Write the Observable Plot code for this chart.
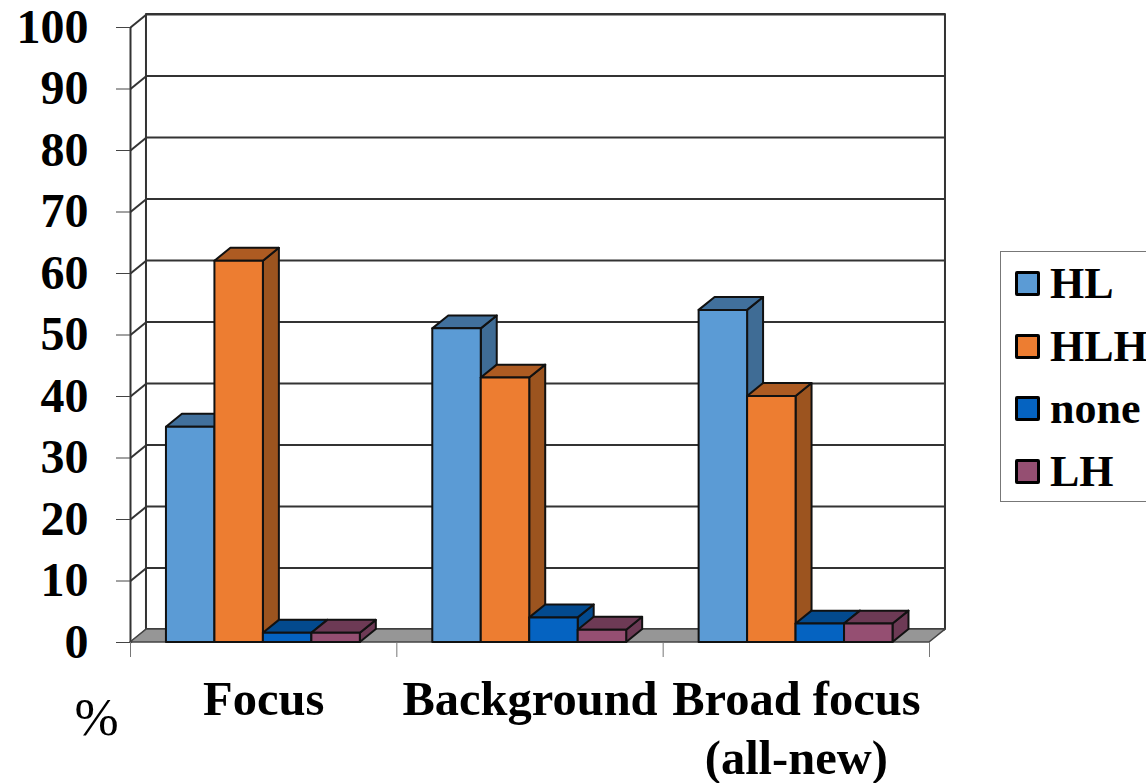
<!DOCTYPE html>
<html>
<head>
<meta charset="utf-8">
<script src="https://cdn.jsdelivr.net/npm/d3@7"></script>
<script src="https://cdn.jsdelivr.net/npm/@observablehq/plot@0.6"></script>
<style>
  html, body { margin: 0; padding: 0; background: #fff; overflow: hidden; }
  #chart { position: absolute; left: 0; top: 0; }
  #legend {
    position: absolute; left: 1000px; top: 251px; width: 150px; height: 251px;
    border: 1px solid #777; box-sizing: border-box; background: #fff;
    font: bold 44px "Liberation Serif", serif; color: #000;
  }
  .row { position: absolute; left: 14px; height: 40px; display: flex; align-items: center; white-space: nowrap; }
  .swatch { width: 19px; height: 19px; border: 3px solid #000; border-radius: 2px; margin-right: 10px; flex: none; }
</style>
</head>
<body>
<div id="chart"></div>
<div id="legend"></div>
<script>
// Share of each contour type, per focus condition
const categories = ["Focus", "Background", "Broad focus\n(all-new)"];
const seriesNames = ["HL", "HLH", "none", "LH"];
const HL = [35, 51, 54];
const HLH = [62, 43, 40];
const none = [1.5, 4, 3];
const LH = [1.5, 2, 3];
const seriesValues = [HL, HLH, none, LH];
const yTicks = [0, 10, 20, 30, 40, 50, 60, 70, 80, 90, 100];

const frontColors = ["#5b9bd5", "#ed7d31", "#0563c1", "#954f72"];
const sideColors = ["#3f6c95", "#9c541f", "#034a8e", "#6d3a55"];
const topColors = ["#41709c", "#ad5b22", "#034a8e", "#6d3a55"];

// Oblique projection: depth of the box, expressed in axis units
const depthX = 0.06;
const depthY = 2.1;
const barWidth = 0.182;
const groupInset = 0.135;
const slab = (x1a, x2a, y1a, y2a, x1b, x2b, y1b, y2b) => [
  {x1: x1a, x2: x2a, y1: y1a, y2: y2a},
  {x1: x1b, x2: x2b, y1: y1b, y2: y2b}
];
const poly = (points, options) => Plot.area(points, {x1: "x1", x2: "x2", y1: "y1", y2: "y2", ...options});

const edge = {stroke: "#111", strokeWidth: 2, strokeLinejoin: "round"};
const gridStroke = {stroke: "#333", strokeWidth: 2};

const bars = categories.flatMap((category, c) =>
  seriesNames.map((name, s) => {
    const x0 = c + groupInset + s * barWidth;
    return {category, name, s, x0, x1: x0 + barWidth, value: seriesValues[s][c]};
  })
);

const barMarks = bars.flatMap((b) => [
  // right-hand face
  poly(slab(b.x1, b.x1, 0, b.value, b.x1 + depthX, b.x1 + depthX, depthY, b.value + depthY), {fill: sideColors[b.s], ...edge}),
  // top face
  poly(slab(b.x0, b.x1, b.value, b.value, b.x0 + depthX, b.x1 + depthX, b.value + depthY, b.value + depthY), {fill: topColors[b.s], ...edge}),
  // front face
  Plot.rect([b], {x1: "x0", x2: "x1", y1: 0, y2: "value", fill: frontColors[b.s], ...edge})
]);

const chart = Plot.plot({
  width: 1146,
  height: 783,
  marginLeft: 130,
  marginRight: 217,
  marginTop: 27,
  marginBottom: 141,
  style: {background: "#fff", overflow: "visible"},
  x: {domain: [0, 3]},
  y: {domain: [0, 100]},
  marks: [
    // side wall and back wall with their gridlines
    poly(slab(0, 3, depthY, depthY, 0, 3, 100 + depthY, 100 + depthY).map((p) => ({...p, x1: p.x1 + depthX, x2: p.x2 + depthX})), {fill: "#fff", ...gridStroke}),
    Plot.ruleY(yTicks, {x1: depthX, x2: 3 + depthX, y: (d) => d + depthY, ...gridStroke}),
    Plot.link(yTicks, {x1: 0, x2: depthX, y1: (d) => d, y2: (d) => d + depthY, ...gridStroke}),
    Plot.ruleX([0], {y1: 0, y2: 100, ...gridStroke}),
    // floor
    poly(slab(0, 3, 0, 0, depthX, 3 + depthX, depthY, depthY), {fill: "#969696", stroke: "#444", strokeWidth: 1.5}),
    ...barMarks,
    Plot.axisY({
      ticks: yTicks, tickSize: 14, tickPadding: 28, stroke: "#444",
      fontSize: 48, fontWeight: "bold", fontFamily: "Liberation Serif", label: null
    }),
    Plot.axisX({ticks: [0, 1, 2, 3], tickSize: 15, tickFormat: () => "", stroke: "#777", label: null}),
    Plot.text(categories, {
      x: (d, i) => i + 0.5, y: 0, dy: 31, text: (d) => d, lineAnchor: "top", lineHeight: 1.21,
      fontSize: 48.5, fontWeight: "bold", fontFamily: "Liberation Serif", fill: "#000"
    }),
    Plot.text(["%"], {
      x: 0, y: 0, dx: -34, dy: 76, text: (d) => d,
      fontSize: 53, fontFamily: "Liberation Serif", fill: "#000"
    })
  ]
});
document.getElementById("chart").append(chart);

// Legend to the right of the plot
const legend = document.getElementById("legend");
const rowTops = [11, 74, 136, 199];
seriesNames.forEach((name, i) => {
  const row = document.createElement("div");
  row.className = "row";
  row.style.top = rowTops[i] + "px";
  const swatch = document.createElement("span");
  swatch.className = "swatch";
  swatch.style.background = frontColors[i];
  row.append(swatch, name);
  legend.append(row);
});
</script>
</body>
</html>
